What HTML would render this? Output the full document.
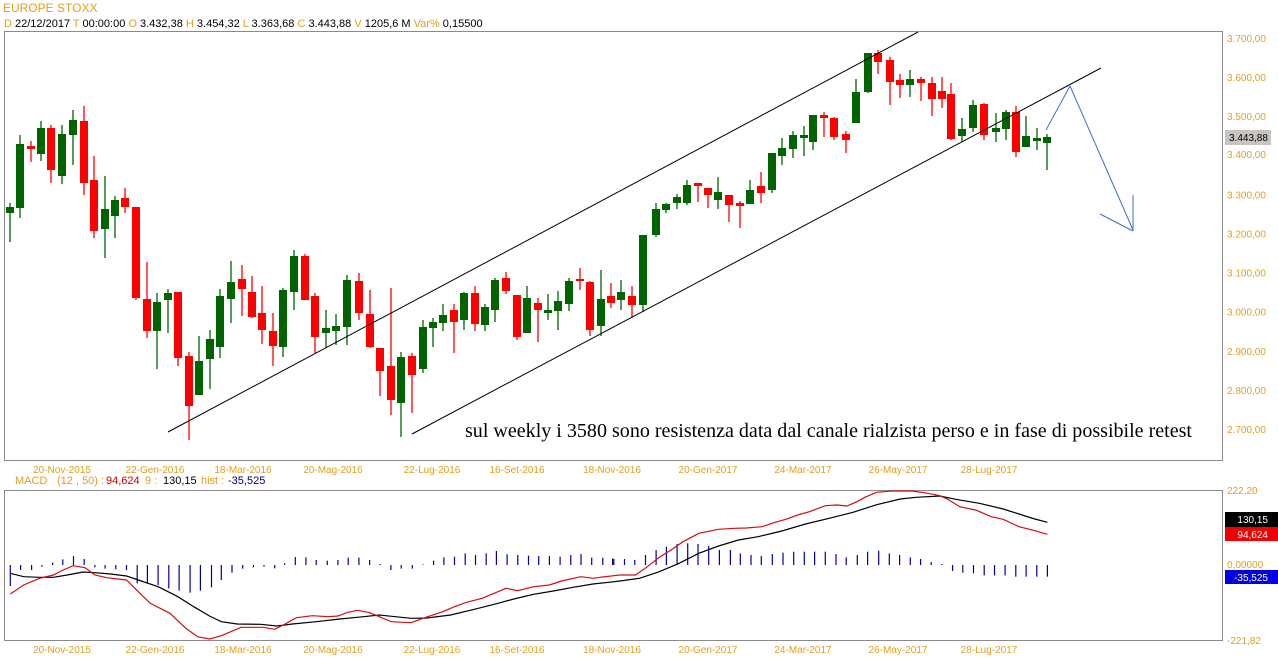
<!DOCTYPE html>
<html><head><meta charset="utf-8">
<style>
html,body{margin:0;padding:0;background:#fff;width:1278px;height:668px;overflow:hidden}
svg{display:block}
text{font-family:"Liberation Sans",Arial,sans-serif}
</style></head>
<body>
<svg id="s" width="1278" height="668" xmlns="http://www.w3.org/2000/svg">
<rect x="0" y="0" width="1278" height="668" fill="#fff"/>
<text x="3" y="12" font-size="12" fill="#e0a020">EUROPE STOXX</text>
<text x="4" y="27" font-size="11" fill="#000"><tspan fill="#e0a020">D</tspan> 22/12/2017  <tspan fill="#e0a020"> T</tspan> 00:00:00  <tspan fill="#e0a020"> O</tspan> 3.432,38  <tspan fill="#e0a020"> H</tspan> 3.454,32  <tspan fill="#e0a020"> L</tspan> 3.363,68  <tspan fill="#e0a020"> C</tspan> 3.443,88  <tspan fill="#e0a020"> V</tspan> 1205,6 M  <tspan fill="#e0a020"> Var%</tspan> 0,15500</text>
<rect x="4.5" y="31.5" width="1218" height="429" fill="none" stroke="#8a8a8a"/>
<rect x="4.5" y="490.5" width="1218" height="150" fill="none" stroke="#8a8a8a"/>
<g id="g"></g>
<text x="15" y="484" font-size="11" fill="#e0a020">MACD</text>
<text x="57" y="484" font-size="11" fill="#e0a020">(12 , 50) :</text>
<text x="106" y="484" font-size="11" fill="#d00000">94,624</text>
<text x="145" y="484" font-size="11" fill="#e0a020">9 :</text>
<text x="163" y="484" font-size="11" fill="#000">130,15</text>
<text x="201" y="484" font-size="11" fill="#e0a020">hist :</text>
<text x="228" y="484" font-size="11" fill="#000080">-35,525</text>
<text x="465" y="437" font-size="20" fill="#000" textLength="727" lengthAdjust="spacingAndGlyphs" style="font-family:'Liberation Serif',serif">sul weekly i 3580 sono resistenza data dal canale rialzista perso e in fase di possibile retest</text>
</svg>
<script>
var g=document.getElementById('g'),h='';
function L(x1,y1,x2,y2,c,w){h+='<line x1="'+x1+'" y1="'+y1+'" x2="'+x2+'" y2="'+y2+'" stroke="'+c+'" stroke-width="'+(w||1)+'"/>';}
function T(x,y,t,c,a,s){h+='<text x="'+x+'" y="'+y+'" font-size="'+(s||10)+'" fill="'+c+'" text-anchor="'+(a||'start')+'">'+t+'</text>';}
var pl=['3.700,00','3.600,00','3.500,00','3.400,00','3.300,00','3.200,00','3.100,00','3.000,00','2.900,00','2.800,00','2.700,00'];
for(var i=0;i<pl.length;i++){var y=38+i*39.1;if(i==3)continue;T(1227,y+4,pl[i],'#e0a020');}
T(1227,158,'3.400,00','#e0a020');
h+='<rect x="1225" y="130" width="46" height="15" fill="#c8c4c0"/>';T(1229,141,'3.443,88','#000');
var C=[[10,213,207,203,242,'G'],[20,208,144,135,218,'G'],[31,147,148,141,162,'R'],[41,154,128,121,161,'G'],[51,128,170,125,183,'R'],[62,176,134,125,184,'G'],[73,135,120,110,165,'G'],[84,121,183,106,195,'R'],[94,180,231,156,238,'R'],[105,229,209,176,258,'G'],[115,216,200,196,238,'G'],[125,198,207,188,213,'R'],[136,207,298,207,300,'R'],[147,299,331,262,338,'R'],[157,331,302,293,369,'G'],[168,300,293,289,333,'G'],[178,292,358,292,366,'R'],[189,356,406,352,440,'R'],[199,395,361,336,395,'G'],[210,359,339,330,389,'G'],[220,347,296,289,358,'G'],[231,299,282,261,323,'G'],[242,279,289,265,316,'R'],[252,292,317,276,318,'R'],[262,313,330,286,344,'R'],[273,331,346,313,366,'R'],[283,347,290,288,357,'G'],[294,292,256,250,310,'G'],[305,256,300,254,300,'R'],[315,296,337,293,353,'R'],[326,333,328,310,348,'G'],[336,331,326,314,345,'G'],[347,327,280,275,345,'G'],[359,281,313,273,320,'R'],[370,314,347,290,348,'R'],[380,348,371,348,396,'R'],[391,366,400,288,415,'R'],[401,403,357,352,437,'G'],[412,356,375,353,413,'R'],[423,369,327,320,373,'G'],[433,328,322,318,347,'G'],[443,323,315,304,331,'G'],[454,310,322,304,353,'R'],[464,320,293,292,330,'G'],[475,293,324,286,331,'R'],[485,325,307,304,331,'G'],[495,310,280,278,322,'G'],[506,278,291,272,294,'R'],[517,295,337,295,340,'R'],[527,333,298,286,333,'G'],[538,303,310,298,342,'R'],[548,312,311,294,320,'G'],[558,311,301,291,330,'G'],[569,304,281,278,311,'G'],[580,279,281,268,290,'R'],[590,282,330,281,336,'R'],[601,326,299,270,336,'G'],[611,296,303,283,308,'R'],[621,300,292,280,310,'G'],[632,296,305,286,318,'R'],[643,305,235,235,312,'G'],[656,235,209,203,237,'G'],[666,210,204,203,213,'G'],[677,203,197,194,209,'G'],[687,203,185,180,205,'G'],[698,184,185,184,202,'R'],[708,188,195,188,208,'R'],[718,200,192,177,209,'G'],[729,195,205,195,222,'R'],[740,204,205,201,228,'R'],[750,204,190,180,204,'G'],[761,186,193,172,203,'R'],[772,190,153,153,193,'G'],[782,156,148,138,165,'G'],[793,149,135,131,158,'G'],[804,137,136,126,156,'G'],[813,142,115,115,150,'G'],[824,115,118,112,137,'R'],[834,118,137,117,140,'R'],[846,134,140,131,153,'R'],[856,123,92,79,123,'G'],[868,92,53,53,93,'G'],[878,53,62,50,74,'R'],[890,60,82,57,105,'R'],[900,80,85,74,98,'R'],[910,85,79,70,97,'G'],[921,79,83,77,101,'R'],[932,83,99,77,116,'R'],[942,91,99,77,108,'R'],[951,94,139,83,140,'R'],[962,136,129,118,142,'G'],[973,128,105,100,132,'G'],[984,104,135,103,140,'R'],[996,132,128,113,142,'G'],[1006,129,112,110,140,'G'],[1016,112,152,106,157,'R'],[1026,147,136,116,147,'G'],[1037,140,139,128,150,'G'],[1047,143,137,134,170,'G']];
C.forEach(function(c){var col=c[5]=='G'?'#006400':'#ff0000';L(c[0],c[3],c[0],c[4],col,1.3);
var t=Math.min(c[1],c[2]),b=Math.max(c[1],c[2]);if(b-t<2){t-=1;b+=1;}
h+='<rect x="'+(c[0]-4)+'" y="'+t+'" width="8" height="'+(b-t)+'" fill="'+col+'"/>';});
L(168,432,918,32,'#000');L(412,434,1101,68,'#000');
var bl='#3b6fd8';L(1046,130,1070,86,bl);L(1070,86,1133,230,bl);L(1100,214,1133,231,bl);L(1133,195,1133,231,bl);
var D=[[62,'20-Nov-2015'],[155,'22-Gen-2016'],[243,'18-Mar-2016'],[333,'20-Mag-2016'],[432,'22-Lug-2016'],[517,'16-Set-2016'],[612,'18-Nov-2016'],[708,'20-Gen-2017'],[803,'24-Mar-2017'],[898,'26-May-2017'],[989,'28-Lug-2017']];
D.forEach(function(d){T(d[0],473,d[1],'#e0a020','middle');T(d[0],653,d[1],'#e0a020','middle');});
T(1227,494,'222,20','#e0a020');T(1227,568,'0,00000','#e0a020');T(1227,644,'-221,82','#e0a020');
h+='<rect x="1225" y="512" width="53" height="15" fill="#000"/>';T(1268,523,'130,15','#fff','end');
h+='<rect x="1225" y="527" width="53" height="14" fill="#f00000"/>';T(1268,538,'94,624','#fff','end');
h+='<rect x="1225" y="570" width="53" height="14" fill="#0000e0"/>';T(1268,581,'-35,525','#fff','end');
var K=2.53;
function X1(z){return (z/K).toFixed(1);} function X2(z){return (600+z/K).toFixed(1);}
var H1=[[26,348],[52,300],[80,300],[106,290],[133,278],[159,268],[186,258],[213,267],[240,292],[266,296],[293,298],[320,300],[347,340],[373,340],[400,345],[427,355],[453,362],[481,368],[507,362],[535,352],[560,330],[587,308],[614,296],[641,292],[668,290],[695,295],[720,280],[747,261],[774,262],[800,270],[828,272],[855,270],[881,263],[908,263],[935,270],[962,282],[989,300],[1015,296],[1043,296],[1070,283],[1097,272],[1123,262],[1150,260],[1177,250],[1203,255],[1230,250],[1256,243],[1283,253],[1310,255],[1337,257],[1363,258],[1390,258],[1417,260],[1444,255],[1470,252],[1497,263],[1525,263],[1550,265]];
var H2=[[35,267],[62,267],[88,270],[115,255],[142,240],[168,230],[195,222],[222,220],[248,222],[275,228],[302,240],[330,240],[355,250],[382,255],[408,258],[436,252],[463,248],[490,245],[517,245],[543,245],[570,245],[597,252],[623,262],[651,255],[677,245],[705,242],[732,250],[758,255],[785,262],[811,267],[838,276],[865,282],[892,303],[918,308],[945,310],[972,316],[998,316],[1025,316],[1052,320],[1078,320],[1105,320],[1132,320]];
H1.forEach(function(p){var x=X1(p[0]),y=470+p[1]/3;L(x,565,x,y,'#0000a0',1.2);});
H2.forEach(function(p){var x=X2(p[0]),y=470+p[1]/3;L(x,565,x,y,'#0000a0',1.2);});
function PL(a,b,col){var s='';a.forEach(function(p){s+=X1(p[0])+','+(470+p[1]/3).toFixed(1)+' ';});b.forEach(function(p){s+=X2(p[0])+','+(470+p[1]/3).toFixed(1)+' ';});h+='<polyline points="'+s+'" fill="none" stroke="'+col+'" stroke-width="1.2"/>';}
var R1=[[26,372],[60,345],[100,325],[135,315],[160,300],[185,287],[215,293],[240,315],[270,323],[320,330],[350,365],[380,400],[430,430],[470,475],[500,500],[530,507],[560,497],[610,472],[665,472],[695,478],[720,463],[750,443],[790,437],[830,440],[855,438],[880,427],[905,421],[935,428],[960,440],[990,455],[1040,458],[1070,445],[1120,425],[1150,410],[1180,397],[1220,385],[1260,365],[1280,355],[1310,362],[1350,350],[1390,345],[1420,333],[1470,320],[1500,325],[1530,320]];
var R2=[[0,322],[50,315],[90,315],[120,290],[150,262],[180,240],[210,215],[250,190],[300,178],[340,175],[370,174],[410,170],[440,158],[470,148],[500,135],[530,125],[570,107],[600,105],[625,108],[650,95],[670,82],[700,67],[740,63],[790,63],[830,70],[860,77],[880,88],[910,110],[950,120],[990,140],[1020,148],[1060,170],[1100,182],[1132,193]];
var B1=[[26,310],[60,320],[100,322],[135,322],[170,315],[210,306],[240,308],[280,312],[320,318],[350,330],[400,350],[450,380],[490,410],[530,438],[560,455],[600,462],[660,463],[700,468],[740,462],[800,455],[860,447],[920,440],[960,435],[1000,440],[1040,445],[1080,444],[1140,435],[1200,418],[1260,400],[1300,387],[1350,373],[1400,363],[1450,352],[1500,342],[1530,338]];
var B2=[[0,340],[50,333],[100,325],[150,305],[200,280],[250,250],[300,228],[350,210],[400,200],[460,183],[520,162],[580,145],[640,127],[700,104],[760,87],[800,82],[860,78],[900,88],[960,100],[1020,117],[1060,132],[1100,147],[1132,157]];
PL(B1,B2,'#000');PL(R1,R2,'#d01010');
g.innerHTML=h;
</script>
</body></html>
